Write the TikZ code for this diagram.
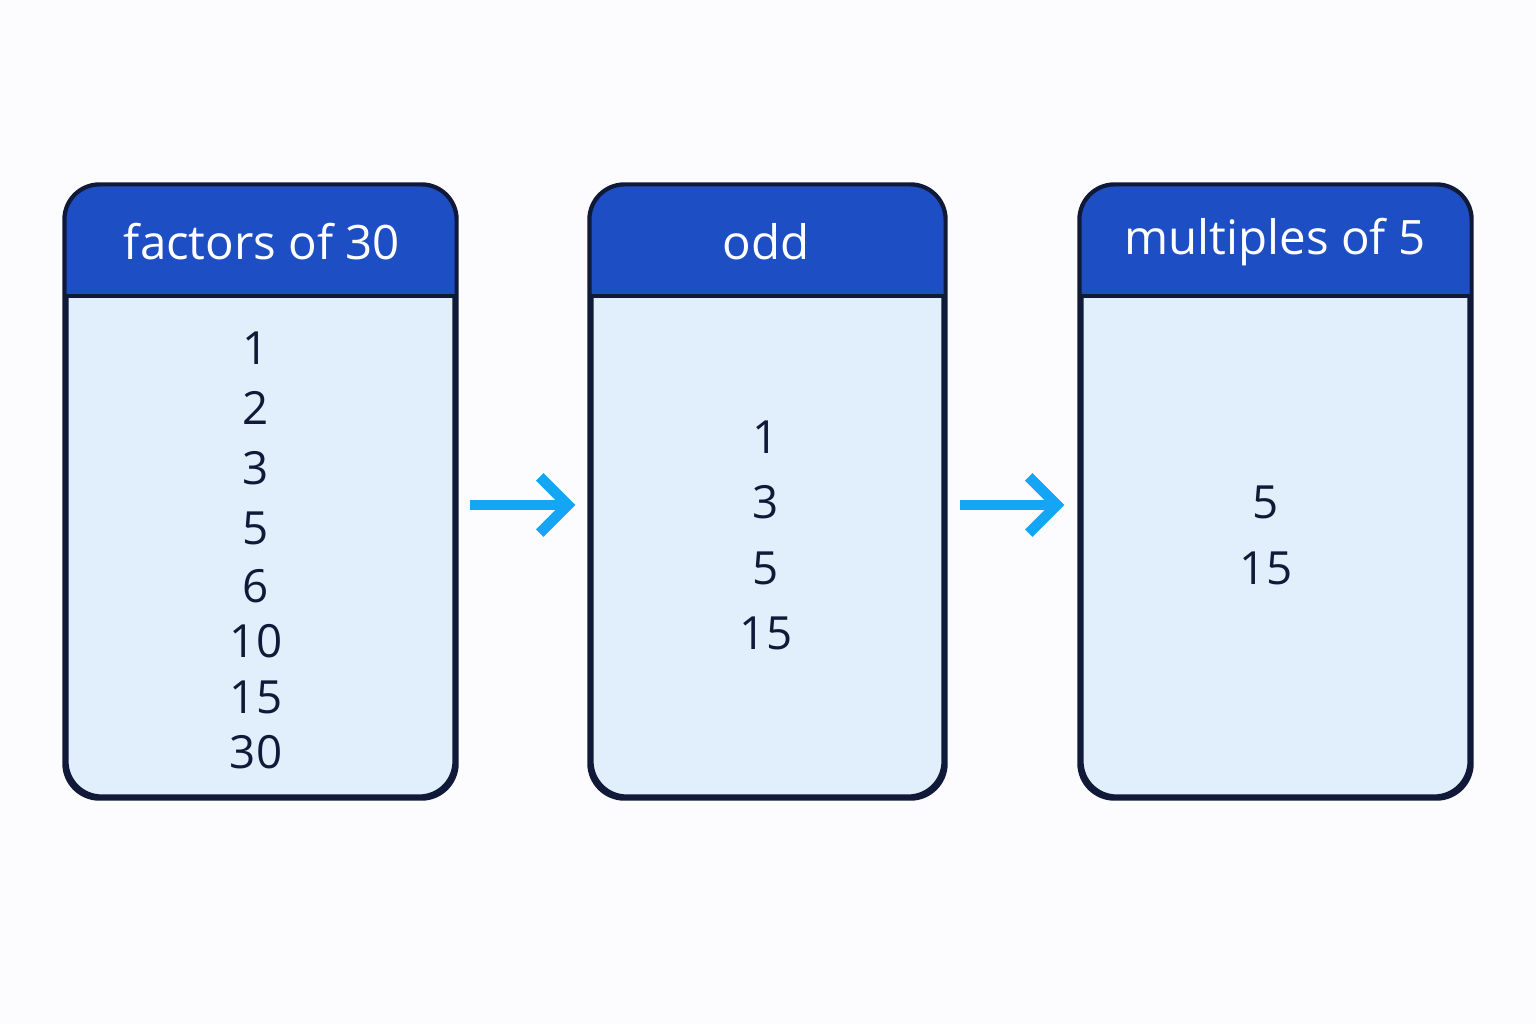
\documentclass[tikz,border=0pt]{standalone}
\usepackage{fontspec}
\setmainfont{Open Sans}
\usetikzlibrary{arrows.meta, positioning}
\definecolor{headblue}{HTML}{1E4EC3}
\definecolor{bodyblue}{HTML}{E1EEFC}
\definecolor{edge}{HTML}{101A38}
\definecolor{arrowblue}{HTML}{14A5F5}
\definecolor{bg}{HTML}{FCFCFE}

\tikzset{
  box/.style={draw=edge, line width=1.2pt, rounded corners=10pt, fill=bodyblue,
    minimum height=6.1cm, inner sep=0pt},
  num/.style={text=edge, font=\fontsize{13}{15}\selectfont},
  head/.style={text=white, font=\fontsize{13.5}{16}\selectfont},
  flow/.style={-{Straight Barb[length=8pt, width=16pt, line width=3pt]}, arrowblue, line width=3pt}
}

\newcommand{\header}[1]{%
  \begin{scope}
    \clip[rounded corners=10pt] (#1.south west) rectangle (#1.north east);
    \fill[headblue] (#1.north west) rectangle ([yshift=-1.12cm]#1.north east);
  \end{scope}
  \draw[edge, line width=1.2pt, rounded corners=10pt] (#1.south west) rectangle (#1.north east);
  \draw[edge, line width=1.2pt] ([yshift=-1.12cm]#1.north west) -- ([yshift=-1.12cm]#1.north east);
}

\begin{document}
\begin{tikzpicture}[x=1cm, y=1cm]
  \fill[bg] (0,0) rectangle (15.36,10.24);
  \useasboundingbox (0,0) rectangle (15.36,10.24);

  % boxes
  \node[box, minimum width=3.88cm] (factors) at (2.605,5.325) {};
  \node[box, minimum width=3.52cm] (odd) at (7.675,5.325) {};
  \node[box, minimum width=3.88cm] (fives) at (12.755,5.325) {};
  \header{factors}
  \header{odd}
  \header{fives}

  \node[head] (t1) at (2.62,7.82) {factors of 30};
  \node[head] (t2) at (7.66,7.82) {odd};
  \node[head] (t3) at (12.75,7.82) {multiples of 5};

  % numbers
  \foreach \v/\y in {1/3.48, 2/4.08, 3/4.68, 5/5.28, 6/5.86, 10/6.41, 15/6.97, 30/7.52}
    \node[num] (f\v) at (2.56,10.24-\y) {\v};
  \foreach \v/\y in {1/4.37, 3/5.02, 5/5.68, 15/6.33}
    \node[num] (o\v) at (7.66,10.24-\y) {\v};
  \foreach \v/\y in {5/5.02, 15/5.68}
    \node[num] (m\v) at (12.66,10.24-\y) {\v};

  % arrows
  \draw[flow] ([xshift=0.13cm,yshift=-0.135cm]factors.east) -- ([xshift=-0.14cm,yshift=-0.135cm]odd.west);
  \draw[flow] ([xshift=0.14cm,yshift=-0.135cm]odd.east) -- ([xshift=-0.15cm,yshift=-0.135cm]fives.west);
\end{tikzpicture}
\end{document}
